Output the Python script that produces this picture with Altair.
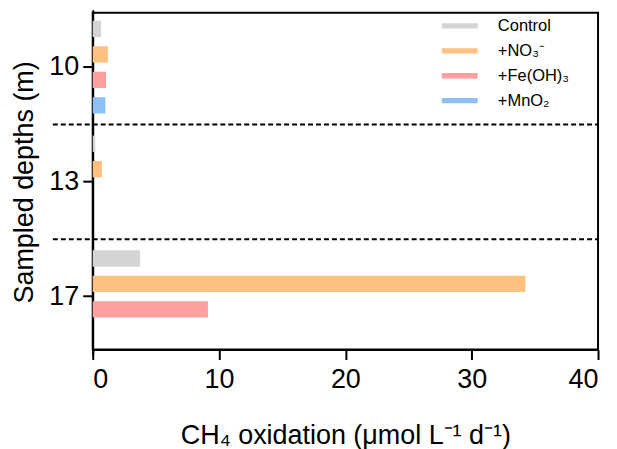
import altair as alt
import pandas as pd

# ---- data ----
depths = ["10", "13", "17"]
treatments = ["Control", "+NO₃⁻", "+Fe(OH)₃", "+MnO₂"]
colors = ["#d4d4d4", "#ffc080", "#ffa0a0", "#8ebff5"]
control = [0.66, 0.20, 3.75]
nitrate = [1.20, 0.73, 34.25]
iron = [1.05, None, 9.12]
manganese = [1.00, None, None]
x_ticks = [0, 10, 20, 30, 40]
separators = ["13", "17"]

rows = []
for i, d in enumerate(depths):
    for t, series in zip(treatments, [control, nitrate, iron, manganese]):
        v = series[i]
        if v is not None:
            rows.append({"depth": d, "treatment": t, "rate": v})
df = pd.DataFrame(rows)
sep_df = pd.DataFrame({"depth": separators})

W, H = 507, 338
FONT = "Liberation Sans"

y_scale = alt.Scale(domain=depths, range=[-3, 342.5], paddingInner=0, paddingOuter=0)

bars = alt.Chart(df).mark_bar().encode(
    x=alt.X(
        "rate:Q",
        scale=alt.Scale(domain=[0, 40], nice=False),
        axis=alt.Axis(
            values=x_ticks,
            grid=False,
            title="CH₄ oxidation (μmol L⁻¹ d⁻¹)",
            tickSize=10,
            labelPadding=7,
            titlePadding=30,
        ),
    ),
    y=alt.Y(
        "depth:N",
        sort=depths,
        scale=y_scale,
        axis=alt.Axis(
            title="Sampled depths (m)",
            labelAngle=0,
            tickSize=10,
            labelPadding=4,
            titlePadding=10,
        ),
    ),
    yOffset=alt.YOffset(
        "treatment:N",
        sort=treatments,
        scale=alt.Scale(domain=treatments, paddingInner=0.36, paddingOuter=0.434),
    ),
    color=alt.Color(
        "treatment:N",
        sort=treatments,
        scale=alt.Scale(domain=treatments, range=colors),
        legend=alt.Legend(
            title=None,
            orient="none",
            legendX=360,
            legendY=5,
            symbolType="M-3,-0.45L3,-0.45L3,0.45L-3,0.45Z",
            symbolSize=144,
            symbolStrokeWidth=0,
            labelFontSize=16.5,
            labelFont=FONT,
            labelColor="black",
            labelOffset=30,
            rowPadding=8,
            padding=0,
        ),
    ),
)

rules = alt.Chart(sep_df).mark_rule(
    color="black", strokeWidth=2, strokeDash=[5, 3]
).encode(
    y=alt.Y("depth:N", bandPosition=0, sort=depths, scale=y_scale),
    x=alt.value(-40),
    x2=alt.value(W),
)

chart = (
    alt.layer(bars, rules)
    .properties(width=W, height=H, padding={"left": 2, "top": 4, "right": 10, "bottom": 2})
    .configure_view(stroke="black", strokeWidth=2)
    .configure_axis(
        domainColor="black",
        domainWidth=2,
        tickColor="black",
        tickWidth=2,
        labelFont=FONT,
        titleFont=FONT,
        labelFontSize=27,
        titleFontSize=27,
        labelColor="black",
        titleColor="black",
        titleFontWeight="normal",
    )
)

chart.save("out.html", embed_options={"renderer": "svg", "actions": False})
